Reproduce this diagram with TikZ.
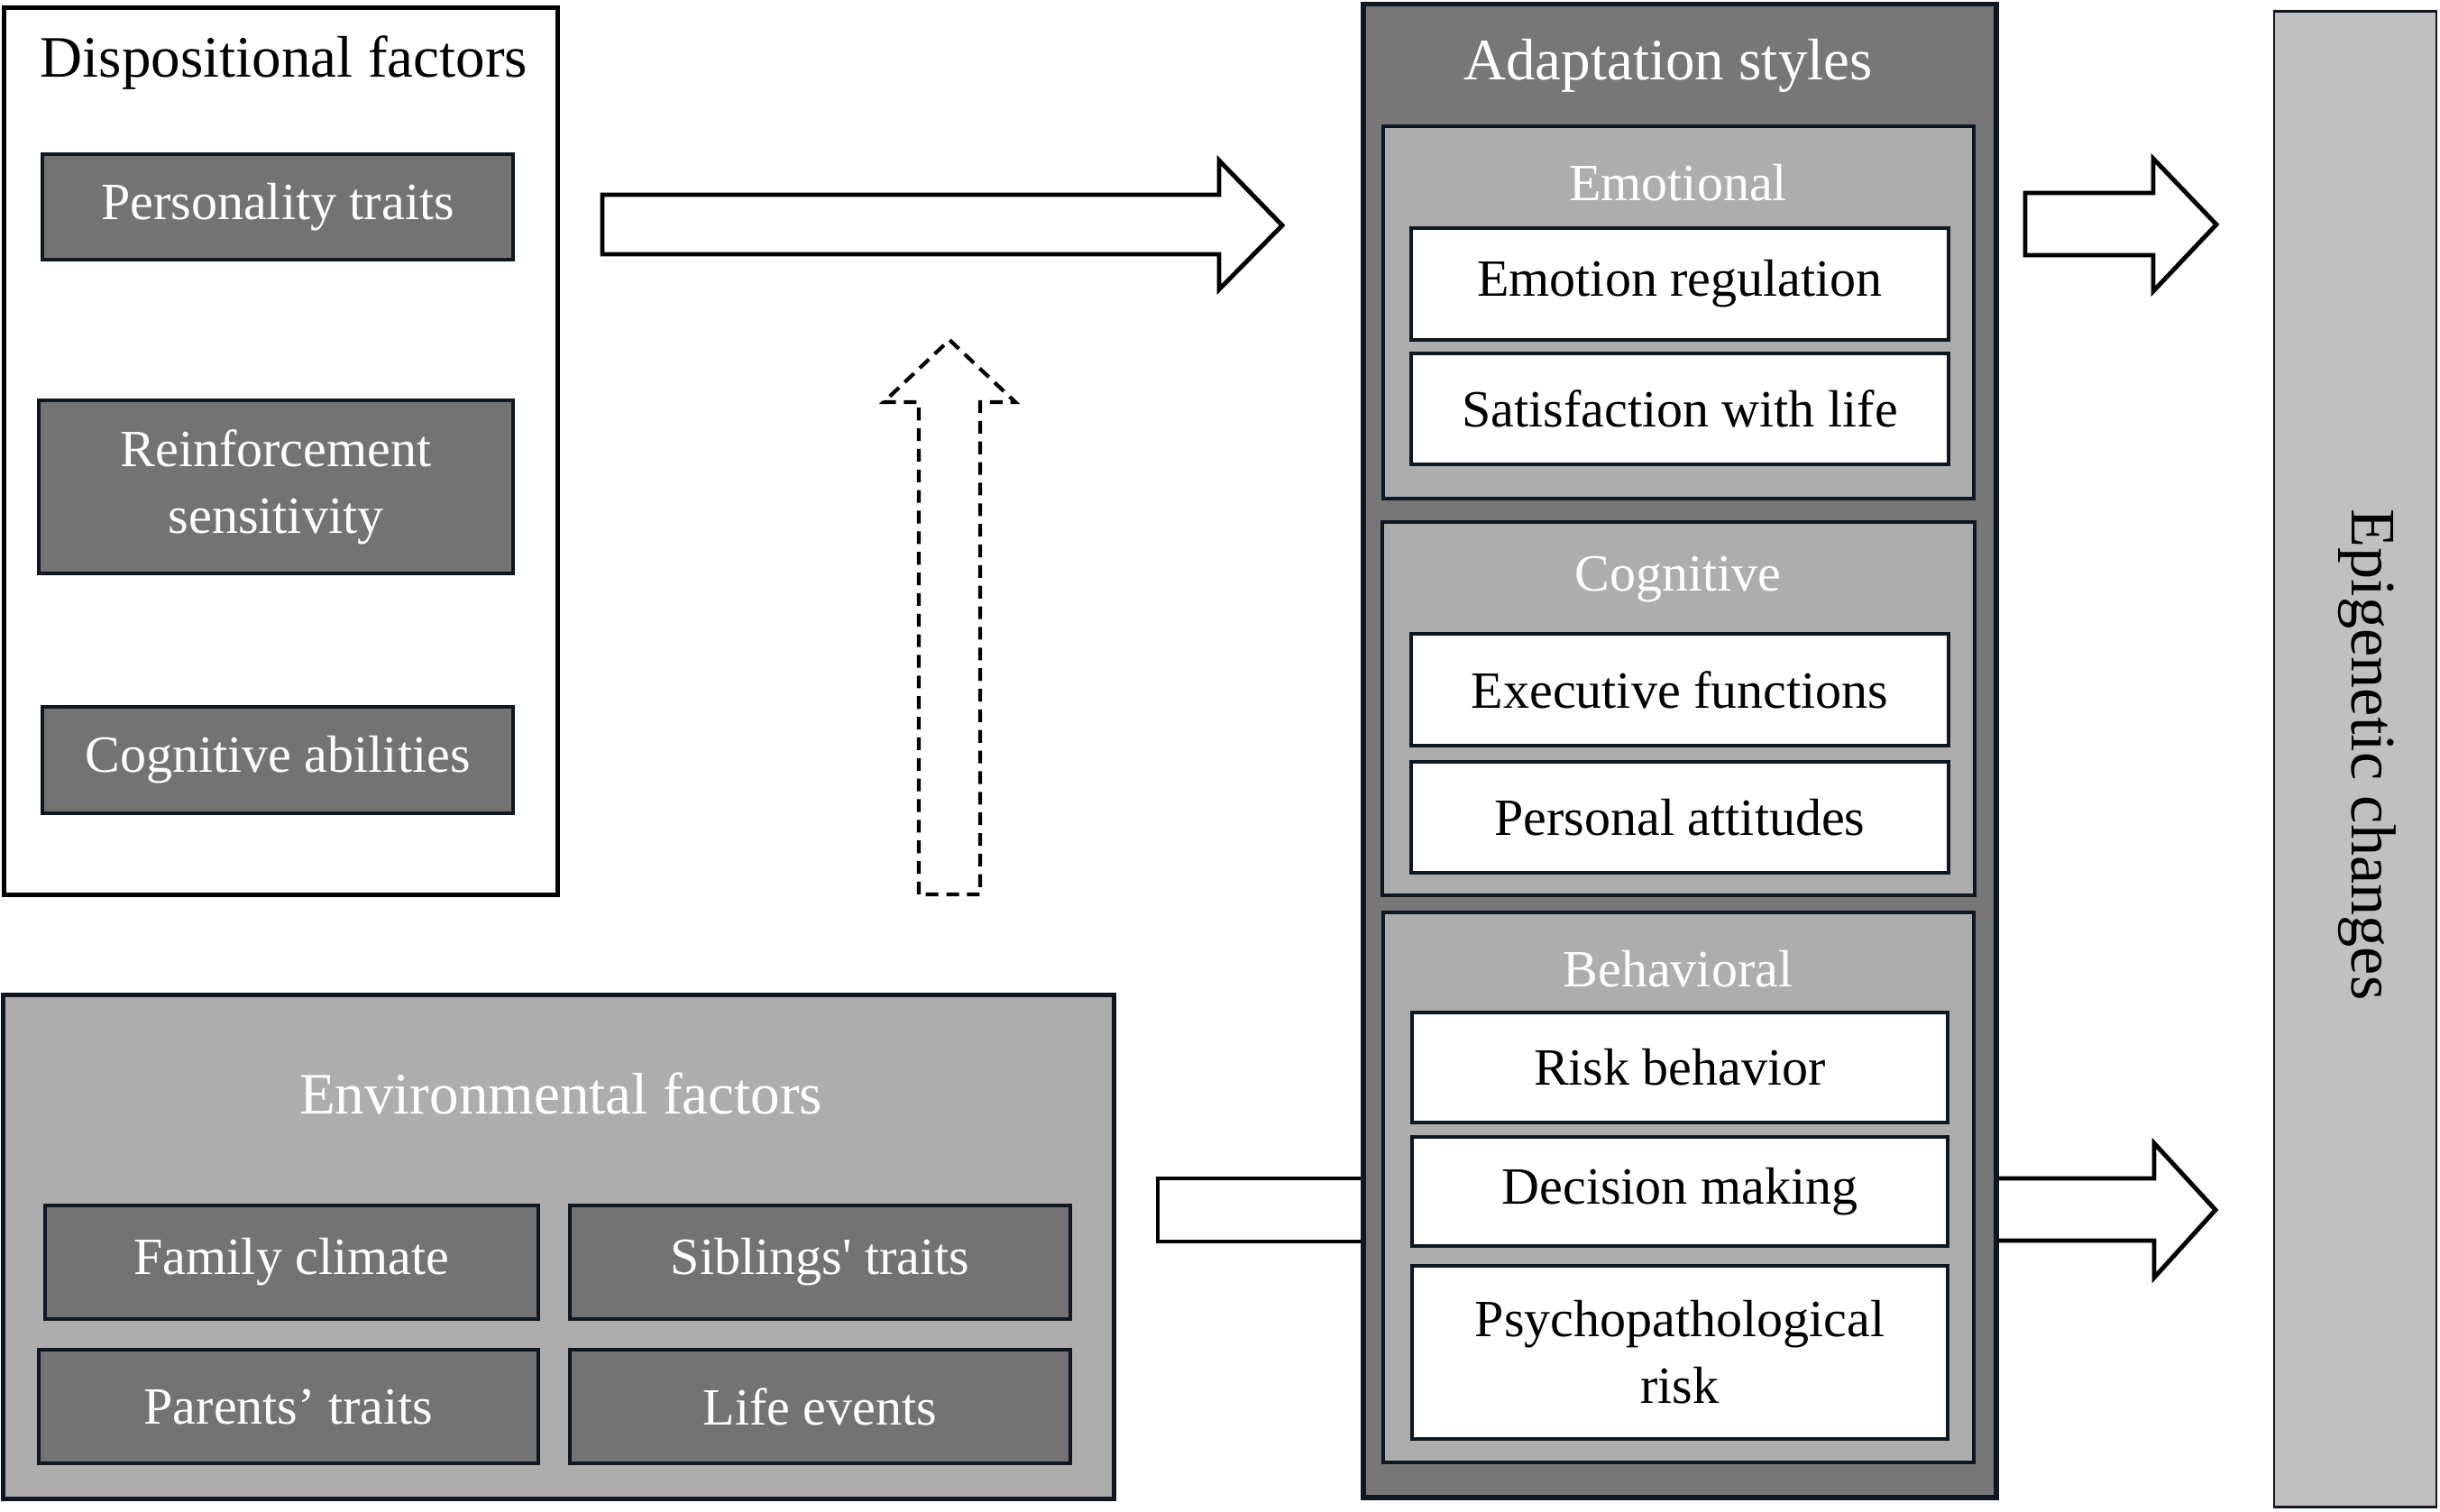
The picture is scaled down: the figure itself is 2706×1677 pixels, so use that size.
\documentclass[tikz,border=0pt]{standalone}
\usepackage{fontspec}
\setmainfont{Liberation Serif}

\definecolor{boxdark}{HTML}{737373}
\definecolor{panelgray}{HTML}{ADADAD}
\definecolor{outergray}{HTML}{777777}
\definecolor{epigray}{HTML}{C0C0C0}
\definecolor{edge}{HTML}{0F1720}

\tikzset{
  factorbox/.style={draw=edge, line width=1.2pt, fill=boxdark, text=white,
    font=\fontsize{16.5}{21}\selectfont, align=center, inner sep=0pt},
  itembox/.style={draw=edge, line width=1.2pt, fill=white,
    font=\fontsize{16.5}{21}\selectfont, align=center, inner sep=0pt},
  panel/.style={draw=edge, line width=1.2pt, fill=panelgray, inner sep=0pt},
  heading/.style={text=white, font=\fontsize{16.5}{21}\selectfont, inner sep=0pt},
  title/.style={font=\fontsize{18.5}{22}\selectfont, inner sep=0pt},
  blockarrow/.style={draw=black, line width=1.4pt, fill=white, line join=miter},
}

\begin{document}
\begin{tikzpicture}[x=0.01cm, y=-0.01cm]
  \useasboundingbox (0,0) rectangle (2706,1677);

  % arrows (drawn first, boxes go on top)
  \draw[blockarrow]
     (668,216) -- (1352,216) -- (1352,178) --
     (1422,250) -- (1352,321) -- (1352,282) --
     (668,282) -- cycle;
  \draw[blockarrow]
     (2246,214) -- (2388,214) -- (2388,176) --
     (2458,249) -- (2388,323) -- (2388,283) --
     (2246,283) -- cycle;
  \draw[blockarrow]
     (1284,1307) rectangle (1515,1377);
  \draw[blockarrow]
     (2200,1307) -- (2389,1307) -- (2389,1268) --
     (2457,1342) -- (2389,1417) -- (2389,1376) --
     (2200,1376) -- cycle;
  \draw[blockarrow, line width=1.2pt, dash pattern=on 4pt off 2.5pt]
     (1019,992) -- (1019,446) -- (980,446) --
     (1053,377) -- (1126,446) -- (1087,446) --
     (1087,992) -- cycle;

  % dispositional factors
  \node[draw=black, line width=1.4pt, fill=white, minimum width=6.13cm,
        minimum height=9.83cm] (disp) at (311.5,500.5) {};
  \node[title] (disptitle) at (315,70) {Dispositional factors};
  \node[factorbox, minimum width=5.22cm, minimum height=1.17cm]
        (pers) at (308,229.5) {Personality traits};
  \node[factorbox, minimum width=5.26cm, minimum height=1.92cm]
        (reinf) at (306,540) {Reinforcement\\sensitivity};
  \node[factorbox, minimum width=5.22cm, minimum height=1.18cm]
        (cogab) at (308,843) {Cognitive abilities};

  % environmental factors
  \node[panel, line width=1.4pt, minimum width=12.31cm,
        minimum height=5.58cm] (env) at (619.5,1383) {};
  \node[title, text=white] (envtitle) at (622,1213) {Environmental factors};
  \node[factorbox, minimum width=5.47cm, minimum height=1.26cm]
        (family) at (323.5,1400) {Family climate};
  \node[factorbox, minimum width=5.55cm, minimum height=1.26cm]
        (siblings) at (909.5,1400) {Siblings\textquotesingle\ traits};
  \node[factorbox, minimum width=5.54cm, minimum height=1.26cm]
        (parents) at (320,1560) {Parents’ traits};
  \node[factorbox, minimum width=5.55cm, minimum height=1.26cm]
        (life) at (909.5,1560) {Life events};

  % adaptation styles
  \node[draw=edge, line width=1.7pt, fill=outergray, minimum width=7.02cm,
        minimum height=16.56cm] (adapt) at (1863,833) {};
  \node[title, text=white] (adapttitle) at (1850,73) {Adaptation styles};

  \node[panel, minimum width=6.55cm, minimum height=4.13cm]
        (emo) at (1861.5,346.5) {};
  \node[heading] (emotitle) at (1861,203) {Emotional};
  \node[itembox, minimum width=5.96cm, minimum height=1.24cm]
        (emoreg) at (1863,315) {Emotion regulation};
  \node[itembox, minimum width=5.96cm, minimum height=1.23cm]
        (satisf) at (1863,453.5) {Satisfaction with life};

  \node[panel, minimum width=6.57cm, minimum height=4.14cm]
        (cog) at (1861.5,786) {};
  \node[heading] (cogtitle) at (1861,643) {Cognitive};
  \node[itembox, minimum width=5.96cm, minimum height=1.24cm]
        (exec) at (1863,765) {Executive functions};
  \node[itembox, minimum width=5.96cm, minimum height=1.23cm]
        (attit) at (1863,906.5) {Personal attitudes};

  \node[panel, minimum width=6.55cm, minimum height=6.10cm]
        (beh) at (1861.5,1317) {};
  \node[heading] (behtitle) at (1861,1075) {Behavioral};
  \node[itembox, minimum width=5.94cm, minimum height=1.22cm]
        (risk) at (1863,1184) {Risk behavior};
  \node[itembox, minimum width=5.94cm, minimum height=1.21cm]
        (decis) at (1863,1321.5) {Decision making};
  \node[itembox, minimum width=5.94cm, minimum height=1.92cm]
        (psych) at (1863,1500) {Psychopathological\\risk};

  % epigenetic changes
  \node[draw=edge, line width=0.8pt, fill=epigray, minimum width=1.80cm,
        minimum height=16.58cm] (epi) at (2612,842) {};
  \node[rotate=-90, font=\fontsize{20}{24}\selectfont]
        (epitext) at (2625,837) {Epigenetic changes};
\end{tikzpicture}
\end{document}
